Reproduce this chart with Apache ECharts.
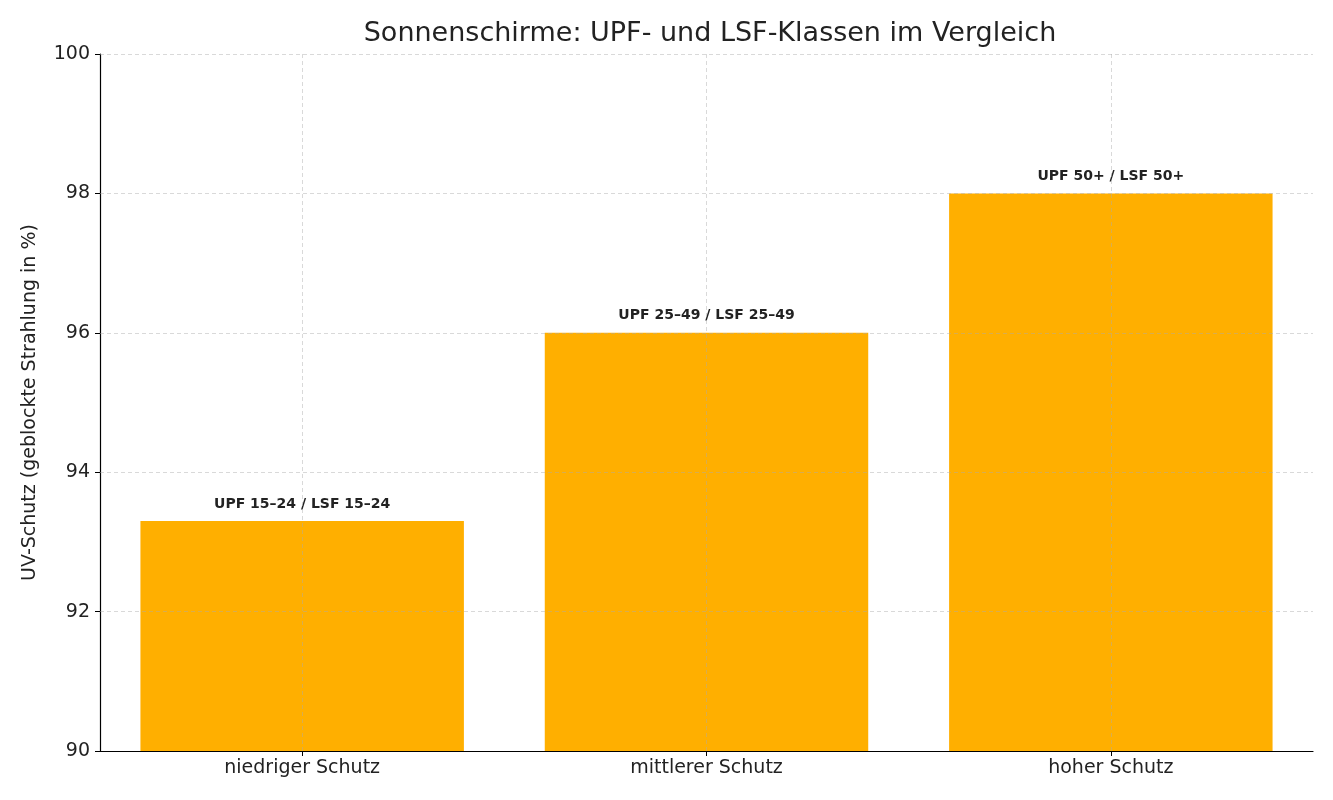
<!DOCTYPE html>
<html><head><meta charset="utf-8">
<script src="https://cdn.jsdelivr.net/npm/echarts@6/dist/echarts.min.js"></script>
<style>html,body{margin:0;background:#fff}#c{width:1333px;height:800px}</style>
</head><body><div id="c"></div>
<script>
const categories = ['niedriger Schutz', 'mittlerer Schutz', 'hoher Schutz'];
const values = [93.3, 96, 98];
const barLabels = ['UPF 15–24 / LSF 15–24', 'UPF 25–49 / LSF 25–49', 'UPF 50+ / LSF 50+'];
const yTicks = [92, 94, 96, 98, 100];

const chart = echarts.init(document.getElementById('c'));
const gridLine = {color: 'rgba(170,170,170,0.45)', type: [4, 3], width: 1};
chart.setOption({
  animation: false,
  textStyle: {fontFamily: 'DejaVu Sans'},
  title: {text: 'Sonnenschirme: UPF- und LSF-Klassen im Vergleich', left: 705, top: 15, textAlign: 'center',
    textStyle: {fontSize: 27, fontWeight: 'normal', color: '#222', fontFamily: 'DejaVu Sans'}},
  grid: {left: 100, right: 20, top: 54, bottom: 49},
  xAxis: {type: 'category', data: categories,
    axisLine: {lineStyle: {color: '#000', width: 1.2}}, axisTick: {show: true, alignWithLabel: true, length: 5, lineStyle: {color: '#000'}},
    axisLabel: {fontSize: 19, color: '#222', margin: 8}, splitLine: {show: false}},
  yAxis: {type: 'value', min: 90, max: 100, interval: 2,
    name: 'UV-Schutz (geblockte Strahlung in %)', nameLocation: 'middle', nameGap: 60,
    nameTextStyle: {fontSize: 19, color: '#222'},
    axisLine: {show: true, lineStyle: {color: '#000', width: 1.2}}, axisTick: {show: true, length: 5, lineStyle: {color: '#000'}},
    axisLabel: {fontSize: 19, color: '#222', margin: 10}, splitLine: {show: false}},
  series: [{
    type: 'bar', data: values, barWidth: '80%', itemStyle: {color: '#FFAF00'},
    label: {show: true, position: 'top', distance: 10, fontSize: 14, fontWeight: 'bold', color: '#222',
      formatter: p => barLabels[p.dataIndex]},
    markLine: {silent: true, symbol: 'none', label: {show: false}, lineStyle: gridLine,
      data: categories.map(c => ({xAxis: c})).concat(yTicks.map(v => ({yAxis: v})))}
  }]
});
</script></body></html>
